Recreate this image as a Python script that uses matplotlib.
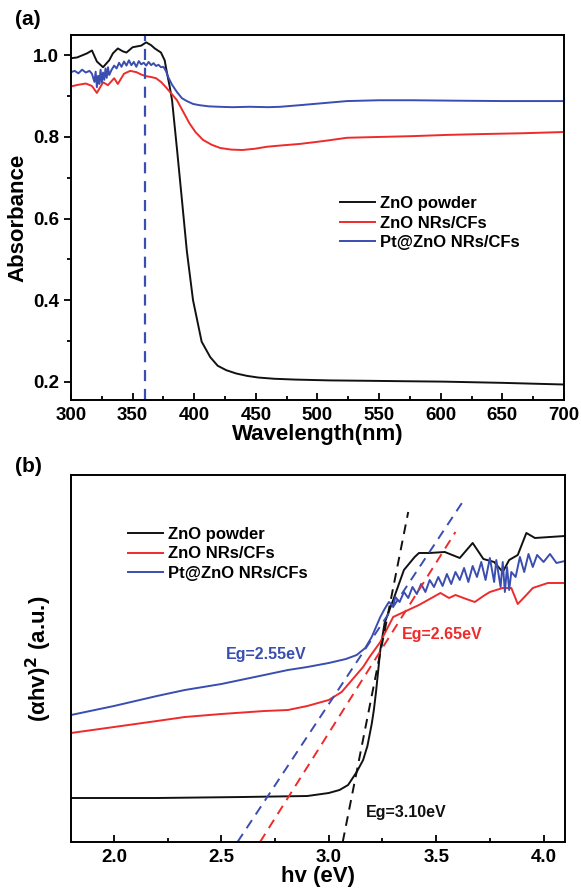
import matplotlib
matplotlib.use("Agg")
import matplotlib.pyplot as plt
from matplotlib.ticker import MultipleLocator

plt.rcParams['font.family'] = ['Liberation Sans', 'DejaVu Sans']
plt.rcParams['font.weight'] = 'bold'
plt.rcParams['mathtext.default'] = 'bf'

# colours
c_black = '#111111'
c_red = '#ee2b2b'
c_blue = '#3a4db0'
labels = ["ZnO powder", "ZnO NRs/CFs", "Pt@ZnO NRs/CFs"]

# ---- panel (a): absorbance vs wavelength ----
wl_black = [300, 305, 309, 313, 317, 321, 326, 331, 334, 338, 342, 345, 350, 357, 361,
            365, 368, 373, 376, 378, 380, 382, 386, 390, 394, 399, 406, 413, 419, 426,
            434, 443, 452, 465, 482, 510, 542, 570, 602, 650, 699]
ab_black = [0.993, 0.995, 1.000, 1.005, 1.012, 0.985, 0.971, 0.988, 1.005, 1.017, 1.01, 1.007, 1.02,
            1.024, 1.032, 1.025, 1.017, 1.007, 0.988, 0.955, 0.925, 0.89, 0.77, 0.646, 0.52,
            0.40, 0.298, 0.26, 0.239, 0.228, 0.22, 0.214, 0.21, 0.207, 0.205, 0.203, 0.202,
            0.201, 0.200, 0.197, 0.193]

wl_red = [300, 306, 312, 317, 321, 326, 330, 335, 338, 343, 348, 353, 357, 361, 365, 369,
          373, 377, 381, 386, 391, 396, 401, 407, 414, 421, 430, 439, 449, 459, 470,
          486, 505, 524, 550, 577, 605, 632, 665, 699]
ab_red = [0.924, 0.928, 0.931, 0.925, 0.908, 0.934, 0.927, 0.944, 0.93, 0.955, 0.962, 0.959,
          0.953, 0.949, 0.947, 0.944, 0.935, 0.922, 0.908, 0.89, 0.862, 0.834, 0.812, 0.793,
          0.781, 0.773, 0.769, 0.768, 0.771, 0.776, 0.779, 0.783, 0.79, 0.798, 0.80, 0.802,
          0.805, 0.807, 0.809, 0.812]

wl_blue = [300, 303, 306, 309, 312, 315, 317, 319, 320, 321, 322, 323, 324, 325, 326, 327,
           328, 329, 330, 331, 333, 335, 337, 339, 341, 343, 345, 347, 349, 351, 353, 355,
           357, 359, 361, 363, 365, 367, 369, 371, 373, 375, 377, 379, 382, 386, 390, 394,
           399, 404, 412, 420, 431, 445, 460, 470, 486, 505, 524, 550, 577, 610, 650, 699]
ab_blue = [0.959, 0.962, 0.956, 0.965, 0.958, 0.962, 0.955, 0.935, 0.96, 0.922, 0.95, 0.93,
           0.965, 0.934, 0.958, 0.94, 0.968, 0.945, 0.971, 0.952, 0.965, 0.975, 0.968, 0.982,
           0.972, 0.985, 0.975, 0.988, 0.976, 0.984, 0.972, 0.986, 0.978, 0.982, 0.975, 0.984,
           0.976, 0.981, 0.974, 0.977, 0.971, 0.972, 0.962, 0.946, 0.928, 0.91, 0.895, 0.888,
           0.881, 0.878, 0.875, 0.874, 0.873, 0.874, 0.873, 0.874, 0.878, 0.883, 0.888, 0.89,
           0.89, 0.889, 0.888, 0.888]

peak_wl = 360

# ---- panel (b): Tauc plot ----
hv_black = [1.8, 2.2, 2.6, 2.9, 3.0, 3.05, 3.09, 3.13, 3.16, 3.18, 3.2, 3.21, 3.22, 3.24, 3.26,
            3.30, 3.35, 3.40, 3.42, 3.47, 3.54, 3.61, 3.67, 3.72, 3.77, 3.81, 3.84, 3.88,
            3.92, 3.96, 4.1]
tauc_black = [44, 44, 45, 46, 49, 52, 57, 70, 82, 96, 118, 132, 150, 192, 219, 242, 272, 285, 289,
              289, 290, 284, 299, 283, 280, 270, 282, 287, 309, 304, 306]

hv_red = [1.8, 2.0, 2.2, 2.33, 2.5, 2.7, 2.81, 2.9, 3.0, 3.06, 3.12, 3.16, 3.19, 3.24, 3.30,
          3.35, 3.42, 3.47, 3.52, 3.56, 3.59, 3.64, 3.68, 3.72, 3.75, 3.81, 3.85, 3.88,
          3.92, 3.95, 4.02, 4.1]
tauc_red = [109, 115, 121, 125, 128, 131, 132, 136, 142, 150, 165, 175, 185, 200, 225, 230,
            237, 243, 249, 244, 247, 243, 240, 246, 250, 254, 254, 238, 247, 254, 259, 259]

hv_blue = [1.8, 2.0, 2.2, 2.33, 2.5, 2.7, 2.81, 2.9, 3.0, 3.08, 3.13, 3.17, 3.2, 3.22, 3.24,
           3.26, 3.28, 3.30, 3.31, 3.33, 3.35, 3.37, 3.39, 3.41, 3.43, 3.45, 3.47, 3.49,
           3.51, 3.53, 3.55, 3.57, 3.59, 3.61, 3.63, 3.65, 3.67, 3.69, 3.71, 3.73, 3.75,
           3.77, 3.78, 3.80, 3.81, 3.82, 3.83, 3.84, 3.85, 3.87, 3.89, 3.91, 3.93, 3.95,
           3.97, 4.0, 4.03, 4.06, 4.1]
tauc_blue = [127, 136, 146, 152, 158, 167, 172, 175, 179, 183, 187, 194, 205, 215, 225, 233,
             240, 236, 245, 240, 250, 244, 255, 248, 258, 250, 262, 255, 265, 256, 268, 258,
             270, 262, 274, 260, 276, 265, 280, 262, 284, 260, 282, 255, 280, 250, 275, 252,
             270, 265, 285, 270, 288, 275, 287, 280, 288, 279, 281]

# tangent (extrapolation) lines: (x0, y0) -> (x1, y1)
fit_black = ([3.065, 3.37], [0, 330])
fit_red = ([2.68, 3.59], [0, 310])
fit_blue = ([2.575, 3.62], [0, 339])

fig = plt.figure(figsize=(5.81, 8.93), dpi=100)

ax1 = fig.add_axes([0.1222, 0.5521, 0.8485, 0.4087])
ax1.plot(wl_black, ab_black, color=c_black, lw=1.4, label=labels[0])
ax1.plot(wl_red, ab_red, color=c_red, lw=1.4, label=labels[1])
ax1.plot(wl_blue, ab_blue, color=c_blue, lw=1.4, label=labels[2])
ax1.axvline(peak_wl, color=c_blue, lw=1.6, ls=(0, (5, 3.5)))
ax1.set_xlim(300, 700)
ax1.set_ylim(0.155, 1.05)
ax1.xaxis.set_major_locator(MultipleLocator(50))
ax1.xaxis.set_minor_locator(MultipleLocator(25))
ax1.yaxis.set_major_locator(MultipleLocator(0.2))
ax1.yaxis.set_minor_locator(MultipleLocator(0.1))
ax1.tick_params(axis='x', which='both', direction='in', labelsize=13.5, pad=5)
ax1.tick_params(axis='y', which='both', direction='out', labelsize=13.5)
ax1.tick_params(which='major', length=5, width=1.3)
ax1.tick_params(which='minor', length=3, width=1.3)
ax1.set_xlabel("Wavelength(nm)", fontsize=16, fontweight='bold', labelpad=0)
ax1.set_ylabel("Absorbance", fontsize=16, fontweight='bold', labelpad=3)
ax1.legend(loc='upper left', bbox_to_anchor=(0.515, 0.6), frameon=False, fontsize=12,
           handlelength=2.1, handletextpad=0.3, labelspacing=0.28)
for s in ax1.spines.values():
    s.set_linewidth(1.4)

ax2 = fig.add_axes([0.1222, 0.0571, 0.8503, 0.4110])
ax2.plot(hv_black, tauc_black, color=c_black, lw=1.4, label=labels[0])
ax2.plot(hv_red, tauc_red, color=c_red, lw=1.4, label=labels[1])
ax2.plot(hv_blue, tauc_blue, color=c_blue, lw=1.4, label=labels[2])
ax2.plot(fit_black[0], fit_black[1], color=c_black, lw=1.4, ls=(0, (5, 3.5)))
ax2.plot(fit_red[0], fit_red[1], color=c_red, lw=1.4, ls=(0, (5, 3.5)))
ax2.plot(fit_blue[0], fit_blue[1], color=c_blue, lw=1.4, ls=(0, (5, 3.5)))
ax2.set_xlim(1.8, 4.1)
ax2.set_ylim(0, 367)
ax2.xaxis.set_major_locator(MultipleLocator(0.5))
ax2.xaxis.set_minor_locator(MultipleLocator(0.25))
ax2.set_yticks([])
ax2.tick_params(axis='x', which='both', direction='in', labelsize=13.5, pad=5)
ax2.tick_params(which='major', length=5, width=1.3)
ax2.tick_params(which='minor', length=3, width=1.3)
ax2.set_xlabel("hv (eV)", fontsize=16, fontweight='bold', labelpad=0)
ax2.set_ylabel(r"(αhv)$^2$ (a.u.)", fontsize=16, fontweight='bold', labelpad=12)
ax2.text(2.71, 187, "Eg=2.55eV", color=c_blue, fontsize=11.5, ha='center', va='center')
ax2.text(3.53, 207, "Eg=2.65eV", color=c_red, fontsize=11.5, ha='center', va='center')
ax2.text(3.36, 30, "Eg=3.10eV", color=c_black, fontsize=11.5, ha='center', va='center')
ax2.legend(loc='upper left', bbox_to_anchor=(0.085, 0.9), frameon=False, fontsize=12,
           handlelength=2.1, handletextpad=0.3, labelspacing=0.28)
for s in ax2.spines.values():
    s.set_linewidth(1.4)

fig.text(0.025, 0.972, "(a)", fontsize=15, fontweight='bold')
fig.text(0.025, 0.472, "(b)", fontsize=15, fontweight='bold')

fig.savefig("out.png", dpi=100)
